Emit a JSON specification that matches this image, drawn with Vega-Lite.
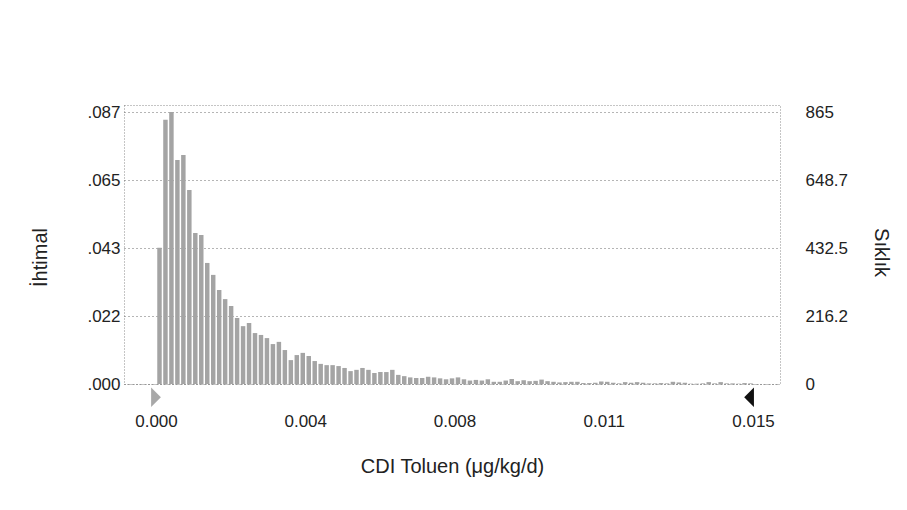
{
  "$schema": "https://vega.github.io/schema/vega-lite/v6.json",
  "width": 656,
  "height": 279,
  "autosize": {"type": "none"},
  "padding": {"left": 124, "top": 105, "right": 127, "bottom": 126},
  "background": "white",
  "config": {
    "font": "Liberation Sans",
    "view": {"stroke": "#8a8a8a", "strokeDash": [1, 2], "strokeWidth": 1},
    "axis": {"labelFont": "Liberation Sans", "labelFontSize": 17, "labelColor": "#222", "titleFont": "Liberation Sans", "titleFontSize": 20, "titleFontWeight": "normal", "titleColor": "#222", "domain": false, "ticks": false},
    "bar": {"binSpacing": 1.5}
  },
  "datasets": {
    "bins": [
      {"lo": 0.0, "hi": 0.00015, "count": 433},
      {"lo": 0.00015, "hi": 0.0003, "count": 840},
      {"lo": 0.0003, "hi": 0.00045, "count": 865},
      {"lo": 0.00045, "hi": 0.0006, "count": 712},
      {"lo": 0.0006, "hi": 0.00075, "count": 728},
      {"lo": 0.00075, "hi": 0.0009, "count": 617},
      {"lo": 0.0009, "hi": 0.00105, "count": 480},
      {"lo": 0.00105, "hi": 0.0012, "count": 474},
      {"lo": 0.0012, "hi": 0.00135, "count": 385},
      {"lo": 0.00135, "hi": 0.0015, "count": 347},
      {"lo": 0.0015, "hi": 0.00165, "count": 299},
      {"lo": 0.00165, "hi": 0.0018, "count": 270},
      {"lo": 0.0018, "hi": 0.00195, "count": 248},
      {"lo": 0.00195, "hi": 0.0021, "count": 210},
      {"lo": 0.0021, "hi": 0.00225, "count": 184},
      {"lo": 0.00225, "hi": 0.0024, "count": 194},
      {"lo": 0.0024, "hi": 0.00255, "count": 162},
      {"lo": 0.00255, "hi": 0.0027, "count": 156},
      {"lo": 0.0027, "hi": 0.00285, "count": 146},
      {"lo": 0.00285, "hi": 0.003, "count": 127},
      {"lo": 0.003, "hi": 0.00315, "count": 134},
      {"lo": 0.00315, "hi": 0.0033, "count": 108},
      {"lo": 0.0033, "hi": 0.00345, "count": 76},
      {"lo": 0.00345, "hi": 0.0036, "count": 92},
      {"lo": 0.0036, "hi": 0.00375, "count": 99},
      {"lo": 0.00375, "hi": 0.0039, "count": 89},
      {"lo": 0.0039, "hi": 0.00405, "count": 73},
      {"lo": 0.00405, "hi": 0.0042, "count": 64},
      {"lo": 0.0042, "hi": 0.00435, "count": 60},
      {"lo": 0.00435, "hi": 0.0045, "count": 60},
      {"lo": 0.0045, "hi": 0.00465, "count": 57},
      {"lo": 0.00465, "hi": 0.0048, "count": 51},
      {"lo": 0.0048, "hi": 0.00495, "count": 41},
      {"lo": 0.00495, "hi": 0.0051, "count": 45},
      {"lo": 0.0051, "hi": 0.00525, "count": 51},
      {"lo": 0.00525, "hi": 0.0054, "count": 45},
      {"lo": 0.0054, "hi": 0.00555, "count": 35},
      {"lo": 0.00555, "hi": 0.0057, "count": 38},
      {"lo": 0.0057, "hi": 0.00585, "count": 38},
      {"lo": 0.00585, "hi": 0.006, "count": 45},
      {"lo": 0.006, "hi": 0.00615, "count": 29},
      {"lo": 0.00615, "hi": 0.0063, "count": 25},
      {"lo": 0.0063, "hi": 0.00645, "count": 21},
      {"lo": 0.00645, "hi": 0.0066, "count": 19},
      {"lo": 0.0066, "hi": 0.00675, "count": 19},
      {"lo": 0.00675, "hi": 0.0069, "count": 23},
      {"lo": 0.0069, "hi": 0.00705, "count": 21},
      {"lo": 0.00705, "hi": 0.0072, "count": 18},
      {"lo": 0.0072, "hi": 0.00735, "count": 15},
      {"lo": 0.00735, "hi": 0.0075, "count": 18},
      {"lo": 0.0075, "hi": 0.00765, "count": 21},
      {"lo": 0.00765, "hi": 0.0078, "count": 15},
      {"lo": 0.0078, "hi": 0.00795, "count": 11},
      {"lo": 0.00795, "hi": 0.0081, "count": 13},
      {"lo": 0.0081, "hi": 0.00825, "count": 11},
      {"lo": 0.00825, "hi": 0.0084, "count": 15},
      {"lo": 0.0084, "hi": 0.00855, "count": 7},
      {"lo": 0.00855, "hi": 0.0087, "count": 7},
      {"lo": 0.0087, "hi": 0.00885, "count": 11},
      {"lo": 0.00885, "hi": 0.009, "count": 16},
      {"lo": 0.009, "hi": 0.00915, "count": 9},
      {"lo": 0.00915, "hi": 0.0093, "count": 12},
      {"lo": 0.0093, "hi": 0.00945, "count": 9},
      {"lo": 0.00945, "hi": 0.0096, "count": 10},
      {"lo": 0.0096, "hi": 0.00975, "count": 14},
      {"lo": 0.00975, "hi": 0.0099, "count": 9},
      {"lo": 0.0099, "hi": 0.01005, "count": 7},
      {"lo": 0.01005, "hi": 0.0102, "count": 5},
      {"lo": 0.0102, "hi": 0.01035, "count": 6},
      {"lo": 0.01035, "hi": 0.0105, "count": 7},
      {"lo": 0.0105, "hi": 0.01065, "count": 7},
      {"lo": 0.01065, "hi": 0.0108, "count": 3},
      {"lo": 0.0108, "hi": 0.01095, "count": 3},
      {"lo": 0.01095, "hi": 0.0111, "count": 4},
      {"lo": 0.0111, "hi": 0.01125, "count": 8},
      {"lo": 0.01125, "hi": 0.0114, "count": 7},
      {"lo": 0.0114, "hi": 0.01155, "count": 4},
      {"lo": 0.01155, "hi": 0.0117, "count": 2},
      {"lo": 0.0117, "hi": 0.01185, "count": 6},
      {"lo": 0.01185, "hi": 0.012, "count": 4},
      {"lo": 0.012, "hi": 0.01215, "count": 6},
      {"lo": 0.01215, "hi": 0.0123, "count": 4},
      {"lo": 0.0123, "hi": 0.01245, "count": 2},
      {"lo": 0.01245, "hi": 0.0126, "count": 2},
      {"lo": 0.0126, "hi": 0.01275, "count": 3},
      {"lo": 0.01275, "hi": 0.0129, "count": 2},
      {"lo": 0.0129, "hi": 0.01305, "count": 7},
      {"lo": 0.01305, "hi": 0.0132, "count": 5},
      {"lo": 0.0132, "hi": 0.01335, "count": 4},
      {"lo": 0.01335, "hi": 0.0135, "count": 1},
      {"lo": 0.0135, "hi": 0.01365, "count": 1},
      {"lo": 0.01365, "hi": 0.0138, "count": 2},
      {"lo": 0.0138, "hi": 0.01395, "count": 6},
      {"lo": 0.01395, "hi": 0.0141, "count": 2},
      {"lo": 0.0141, "hi": 0.01425, "count": 6},
      {"lo": 0.01425, "hi": 0.0144, "count": 2},
      {"lo": 0.0144, "hi": 0.01455, "count": 2},
      {"lo": 0.01455, "hi": 0.0147, "count": 1},
      {"lo": 0.0147, "hi": 0.01485, "count": 3},
      {"lo": 0.01485, "hi": 0.015, "count": 2}
    ],
    "grabbers": [
      {"value": 0.0, "side": "lo"},
      {"value": 0.0149, "side": "hi"}
    ]
  },
  "layer": [
    {
      "data": {"name": "bins"},
      "mark": {"type": "bar", "color": "#a4a4a4"},
      "encoding": {
        "x": {
          "field": "lo", "type": "quantitative", "bin": "binned",
          "scale": {"domain": [-0.000804, 0.015678], "nice": false, "zero": false},
          "axis": {
            "values": [0, 0.00375, 0.0075, 0.01125, 0.015],
            "labelExpr": "format(datum.value + 1e-9, '.3f')",
            "labelPadding": 29, "grid": false,
            "title": "CDI Toluen (μg/kg/d)",
            "titleX": 328, "titleY": 82, "titleBaseline": "middle", "titleAlign": "center"
          }
        },
        "x2": {"field": "hi"},
        "y": {
          "field": "count", "type": "quantitative",
          "scale": {"domain": [0, 887.3], "nice": false, "zero": false},
          "axis": {
            "orient": "left",
            "values": [0, 216.25, 432.5, 648.75, 865],
            "labelExpr": "replace(format(datum.value / 10000 + 1e-9, '.3f'), '0.', '.')",
            "labelPadding": 4,
            "grid": true, "gridColor": "#6a6a6a", "gridDash": [1, 3], "gridWidth": 1,
            "title": "İhtimal",
            "titleAngle": -90, "titleX": -84, "titleY": 152, "titleBaseline": "middle", "titleAlign": "center"
          }
        }
      }
    },
    {
      "data": {"name": "bins"},
      "mark": {"type": "bar", "opacity": 0},
      "encoding": {
        "x": {"field": "lo", "type": "quantitative", "bin": "binned"},
        "x2": {"field": "hi"},
        "y": {
          "field": "count", "type": "quantitative",
          "scale": {"domain": [0, 887.3], "nice": false, "zero": false},
          "axis": {
            "orient": "right",
            "values": [0, 216.25, 432.5, 648.75, 865],
            "labelExpr": "'' + floor(datum.value * 10) / 10",
            "labelPadding": 25,
            "grid": false,
            "title": "Sıklık",
            "titleAngle": 90, "titleX": 100, "titleY": 147, "titleBaseline": "middle", "titleAlign": "center"
          }
        }
      }
    },
    {
      "data": {"name": "grabbers"},
      "mark": {"type": "point", "filled": true, "opacity": 1, "size": 380, "strokeWidth": 0},
      "encoding": {
        "x": {"field": "value", "type": "quantitative"},
        "y": {"datum": -42, "type": "quantitative", "scale": {"domain": [0, 887.3], "nice": false, "zero": false}, "axis": null},
        "shape": {"field": "side", "type": "nominal", "scale": {"domain": ["lo", "hi"], "range": ["M-0.5,-1L0.5,0L-0.5,1Z", "M0.5,-1L-0.5,0L0.5,1Z"]}, "legend": null},
        "color": {"field": "side", "type": "nominal", "scale": {"domain": ["lo", "hi"], "range": ["#a8a8a8", "#111111"]}, "legend": null}
      }
    }
  ],
  "resolve": {"scale": {"y": "independent"}}
}
